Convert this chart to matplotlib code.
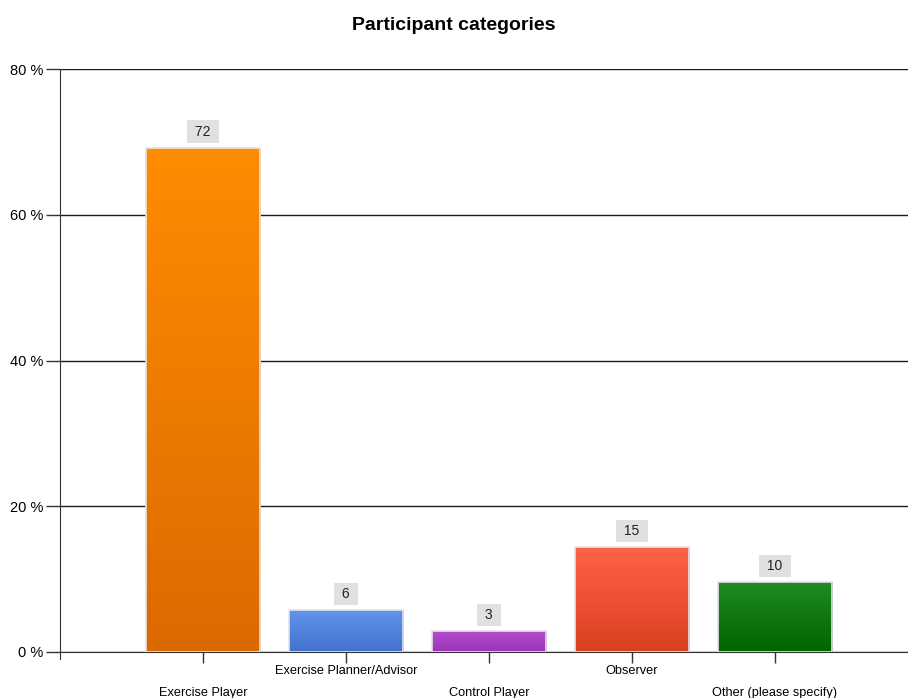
import numpy as np
import matplotlib.pyplot as plt
from matplotlib.colors import LinearSegmentedColormap

plt.rcParams['font.family'] = ['Liberation Sans', 'DejaVu Sans']

categories = ['Exercise Player', 'Exercise Planner/Advisor', 'Control Player',
              'Observer', 'Other (please specify)']
counts = [72, 6, 3, 15, 10]
total = 104
percents = [c / total * 100 for c in counts]
top_colors = ['#ff8c00', '#6495ed', '#b650d0', '#ff6347', '#228b22']
bottom_colors = ['#da6a00', '#4272cc', '#9a33b6', '#d9401f', '#006400']

fig = plt.figure(figsize=(9.08, 6.98), dpi=100)
ax = fig.add_axes([0.066, 0.066, 0.934, 0.835])

x = np.arange(len(categories))
bars = ax.bar(x, percents, width=0.8, color='none', edgecolor='#e4e4e4',
              linewidth=1.2, zorder=3)

# gradient fill for each bar
for bar, c1, c2 in zip(bars, top_colors, bottom_colors):
    cmap = LinearSegmentedColormap.from_list('g', [c2, c1])
    grad = np.linspace(0, 1, 256).reshape(-1, 1)
    bx, bw, bh = bar.get_x(), bar.get_width(), bar.get_height()
    im = ax.imshow(grad, cmap=cmap, aspect='auto', origin='lower',
                   extent=[bx, bx + bw, 0, bh], zorder=2)
    im.set_clip_path(bar)

for xi, p, c in zip(x, percents, counts):
    ax.annotate(f' {c} ', (xi, p), xytext=(0, 6.5), textcoords='offset points',
                ha='center', va='bottom', fontsize=10, color='#222222',
                bbox=dict(boxstyle='square,pad=0.3', fc='#e0e0e0', ec='none'),
                zorder=4)

ax.set_xlim(-1, 4.93)
ax.set_ylim(0, 80)
ax.set_yticks([0, 20, 40, 60, 80])
ax.set_yticklabels([f'{v} %' for v in [0, 20, 40, 60, 80]], fontsize=10.5)
ax.yaxis.grid(True, color='#1a1a1a', linewidth=1)
ax.set_axisbelow(True)

ax.set_xticks(x)
ax.set_xticklabels(['\n' + c if i % 2 == 0 else c for i, c in enumerate(categories)],
                   fontsize=9.2, linespacing=2.05)
ax.tick_params(axis='x', length=8, width=1, color='#333333', pad=1.5)
ax.tick_params(axis='y', length=10, width=1, color='#333333', pad=2)

for s in ['top', 'right']:
    ax.spines[s].set_visible(False)
ax.spines['left'].set_color('#333333')
ax.spines['bottom'].set_color('#333333')
ax.spines['left'].set_bounds(-1, 80)
ax.spines['left'].set_clip_on(False)

fig.suptitle('Participant categories', fontsize=14, fontweight='bold', y=0.976)

fig.savefig('out.png', dpi=100)
